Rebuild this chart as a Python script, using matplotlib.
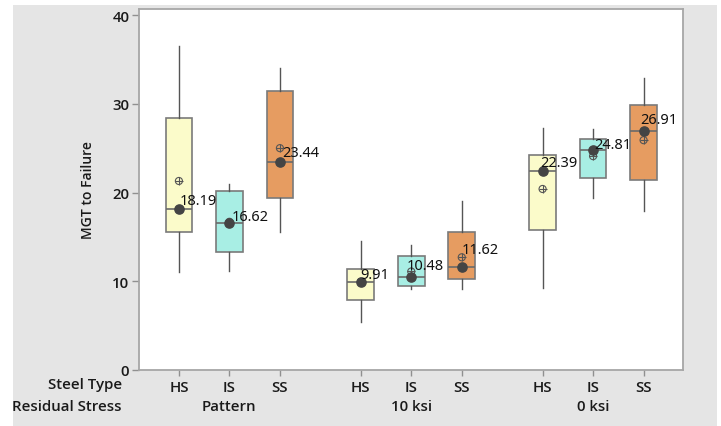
import matplotlib
matplotlib.use("Agg")
import matplotlib.pyplot as plt
from matplotlib.patches import Rectangle
from matplotlib.transforms import blended_transform_factory

# Steel types within each residual-stress group
steel_types = ["HS", "IS", "SS"]
stress_groups = ["Pattern", "10 ksi", "0 ksi"]

# Box statistics per group, in steel-type order (HS, IS, SS)
whisker_low = [11.0, 11.1, 15.6,   5.4, 9.1, 9.1,    9.2, 19.4, 17.9]
q1          = [15.6, 13.3, 19.4,   7.9, 9.5, 10.2,   15.8, 21.6, 21.4]
medians     = [18.19, 16.62, 23.44, 9.91, 10.48, 11.62, 22.39, 24.81, 26.91]
q3          = [28.4, 20.2, 31.4,   11.4, 12.8, 15.5,  24.2, 26.0, 29.9]
whisker_high= [36.5, 21.0, 34.0,   14.5, 14.1, 19.1,  27.3, 27.2, 32.9]
means       = [21.3, 16.7, 25.0,   9.95, 11.1, 12.7,  20.4, 24.1, 25.9]

fill_colors = {"HS": "#FBFBCA", "IS": "#A8EEE4", "SS": "#E69C61"}

# Label nudges in pixels (dx, dy) to keep the median labels clear of the marks
label_nudge = [(1, 5), (2, 3), (2, 6), (0, 4), (-5, 8), (0, 14), (-2, 5), (1, 2), (-3, 8)]

fig = plt.figure(figsize=(7.21, 4.27), dpi=100)
fig.patch.set_facecolor("white")
fig.patches.append(Rectangle((13 / 721, 0), (717 - 13) / 721, 1 - 6 / 427,
                             transform=fig.transFigure, facecolor="#E5E5E5",
                             edgecolor="none", zorder=-10))

ax = fig.add_axes([139 / 721, 1 - 371 / 427, (683 - 139) / 721, (371 - 10) / 427])
ax.set_zorder(5)
ax.set_facecolor("white")

group_gap = 1.6
positions = []
for g in range(len(stress_groups)):
    for s in range(len(steel_types)):
        positions.append(g * (len(steel_types) - 1 + group_gap) + s)

stats = []
for i in range(len(positions)):
    stats.append(dict(med=medians[i], q1=q1[i], q3=q3[i],
                      whislo=whisker_low[i], whishi=whisker_high[i],
                      mean=means[i], fliers=[]))

edge = "#7A7A7A"
bp = ax.bxp(stats, positions=positions, widths=0.53, patch_artist=True,
            showmeans=False, showcaps=False, showfliers=False,
            boxprops=dict(edgecolor=edge, linewidth=1.2),
            medianprops=dict(color="#6A6A6A", linewidth=1.2),
            whiskerprops=dict(color="#555555", linewidth=1.0))
labels_cycle = steel_types * len(stress_groups)
for patch, st in zip(bp["boxes"], labels_cycle):
    patch.set_facecolor(fill_colors[st])

# Mean symbols (circled plus)
ax.scatter(positions, means, s=26, marker="o", facecolors="none",
           edgecolors="#555555", linewidths=0.8, zorder=4)
ax.scatter(positions, means, s=26, marker="+", color="#555555",
           linewidths=0.8, zorder=4)

# Median dots with their value labels
ax.scatter(positions, medians, s=44, color="#444444", zorder=5)
for x, m, (dx, dy) in zip(positions, medians, label_nudge):
    ax.annotate(f"{m:.2f}", (x, m), xytext=(dx, dy), textcoords="offset pixels",
                ha="left", va="baseline", fontsize=10.5, color="#111111",
                family="Noto Sans", zorder=6)

ax.set_ylim(0, 40.68)
ax.set_xlim(-0.79, 9.98)
ax.set_yticks([0, 10, 20, 30, 40])
ax.set_xticks(positions)
ax.set_xticklabels(labels_cycle)

tick_font = dict(family="Open Sans", weight="semibold", size=10.8)
for lab in ax.get_yticklabels() + ax.get_xticklabels():
    lab.set_fontfamily(tick_font["family"])
    lab.set_fontweight(tick_font["weight"])
    lab.set_fontsize(tick_font["size"])
    lab.set_color("#1A1A1A")

ax.tick_params(axis="y", length=5, width=1.0, color="#909090", pad=2)
ax.tick_params(axis="x", length=4, width=1.0, color="#909090", pad=3)
for sp in ax.spines.values():
    sp.set_color("#A6A6A6")
    sp.set_linewidth(1.3)

ax.set_ylabel("MGT to Failure", family="Open Sans", fontsize=10,
              weight="semibold", color="#1A1A1A", labelpad=12)

# Group names under the steel-type ticks
trans = blended_transform_factory(ax.transData, fig.transFigure)
for g, name in enumerate(stress_groups):
    center = positions[g * len(steel_types) + 1]
    ax.text(center, 1 - 407 / 427, name, transform=trans, ha="center",
            va="center", clip_on=False, **tick_font, color="#1A1A1A")

fig.text(122 / 721, 1 - 385 / 427, "Steel Type", ha="right", va="center",
         **tick_font, color="#1A1A1A")
fig.text(122 / 721, 1 - 407 / 427, "Residual Stress", ha="right", va="center",
         **tick_font, color="#1A1A1A")

fig.savefig("out.png", dpi=100, facecolor=fig.get_facecolor())
